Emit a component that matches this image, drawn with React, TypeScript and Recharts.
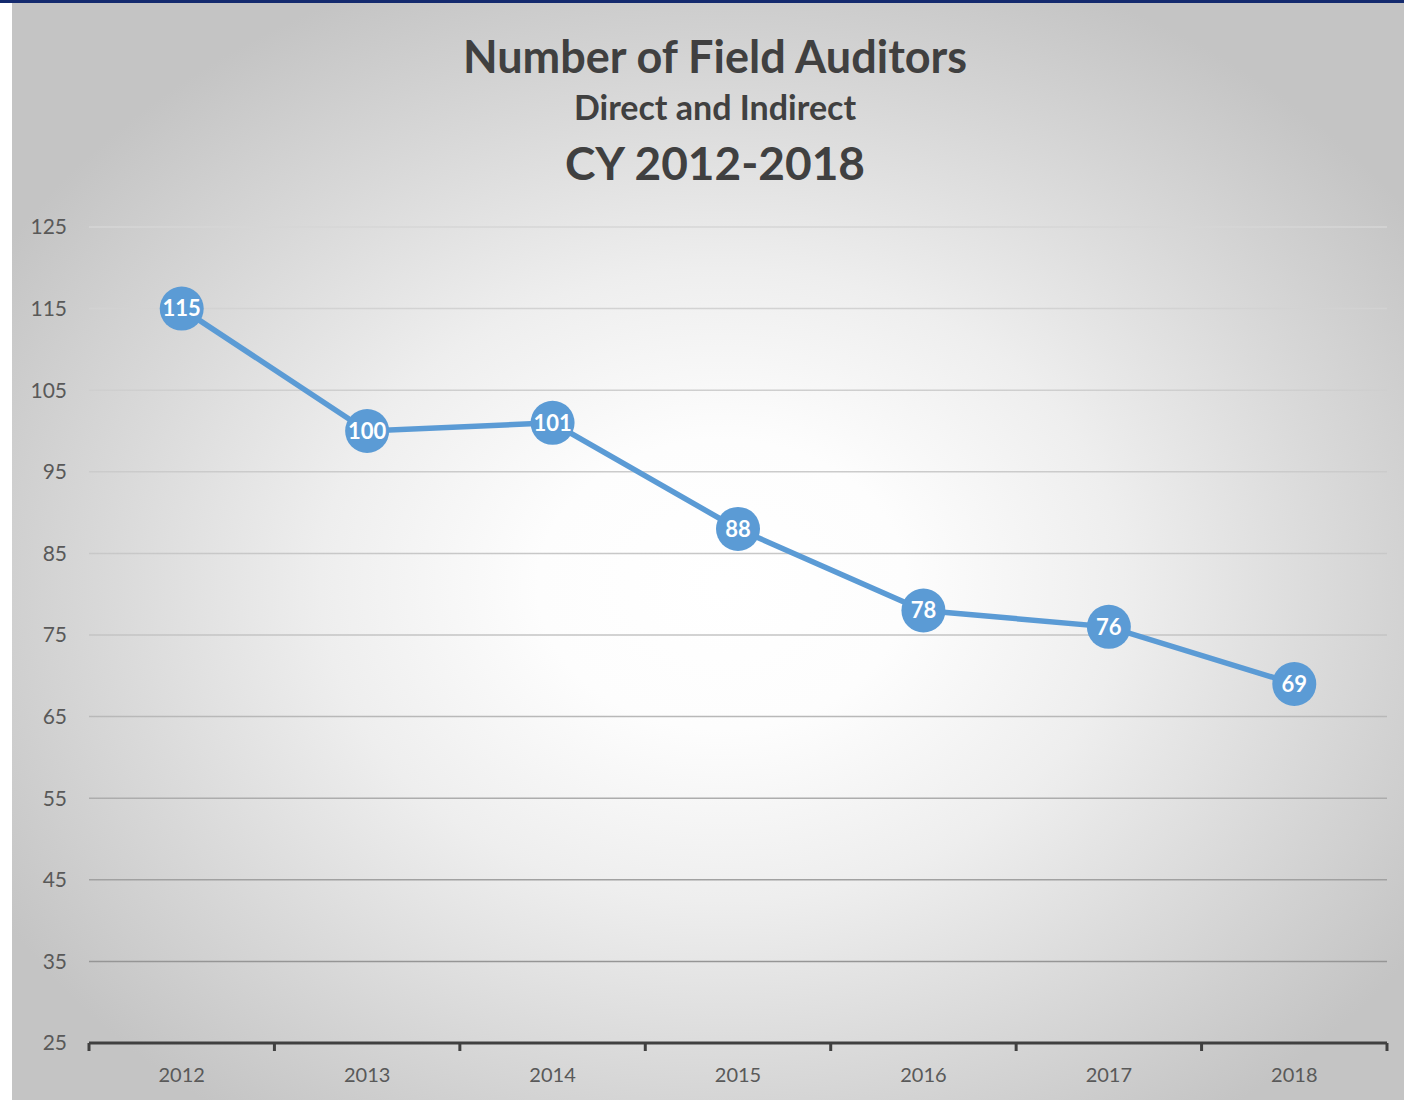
import { LineChart, Line, XAxis, YAxis, CartesianGrid, LabelList } from 'recharts'

const years = ['2012', '2013', '2014', '2015', '2016', '2017', '2018']
const auditors = [115, 100, 101, 88, 78, 76, 69]
const yTicks = [25, 35, 45, 55, 65, 75, 85, 95, 105, 115, 125]

const data = years.map((year, i) => ({ year, auditors: auditors[i] }))

const CHART_W = 1392
const CHART_H = 1097
const MARGIN = { top: 224, right: 17, bottom: 17, left: 0 }
const Y_AXIS_W = 77
const X_AXIS_H = 40
const PLOT_W = CHART_W - MARGIN.left - MARGIN.right - Y_AXIS_W
const HALF_BAND = PLOT_W / years.length / 2
const PLOT_BOTTOM = CHART_H - MARGIN.bottom - X_AXIS_H

const FONT = 'Lato, "Open Sans", sans-serif'
const BLUE = '#5B9BD5'

function XTick(props: any) {
  const { x, payload, index } = props
  const last = index === years.length - 1
  const top = PLOT_BOTTOM
  return (
    <g>
      <line x1={x - HALF_BAND} x2={x - HALF_BAND} y1={top} y2={top + 8} stroke="#404040" strokeWidth={3} />
      {last && (
        <line x1={x + HALF_BAND} x2={x + HALF_BAND} y1={top} y2={top + 8} stroke="#404040" strokeWidth={3} />
      )}
      <text x={x} y={top + 39} textAnchor="middle" fontSize={20} fill="#595959" fontFamily={FONT}>
        {payload.value}
      </text>
    </g>
  )
}

export default function App() {
  return (
    <div style={{ position: 'absolute', left: 0, top: 0, width: 1404, height: 1100, background: '#fff', overflow: 'hidden' }}>
      <div style={{ position: 'absolute', left: 0, top: 0, width: 1404, height: 3, background: '#142a6e' }} />
      <div
        style={{
          position: 'absolute',
          left: 12,
          top: 3,
          width: CHART_W,
          height: CHART_H,
          background:
            'radial-gradient(ellipse 60% 60% at 51% 53%, #ffffff 0%, #fdfdfd 22%, #eeeeee 48%, #d8d8d8 75%, #c4c4c4 100%)',
        }}
      >
        <div
          style={{
            position: 'absolute',
            top: 27,
            left: 7,
            width: CHART_W,
            textAlign: 'center',
            fontFamily: FONT,
            fontWeight: 700,
            color: '#404040',
          }}
        >
          <div style={{ fontSize: 45, lineHeight: '52px' }}>Number of Field Auditors</div>
          <div style={{ fontSize: 34, lineHeight: '44px', marginTop: 3 }}>Direct and Indirect</div>
          <div style={{ fontSize: 46, lineHeight: '60px', marginTop: 4 }}>CY 2012-2018</div>
        </div>
        <div style={{ position: 'absolute', left: 0, top: 0 }}>
          <LineChart width={CHART_W} height={CHART_H} data={data} margin={MARGIN}>
            <defs>
              <linearGradient id="gridGrad" gradientUnits="userSpaceOnUse" x1={0} y1={MARGIN.top} x2={0} y2={PLOT_BOTTOM}>
                <stop offset="0%" stopColor="#d6d6d6" />
                <stop offset="50%" stopColor="#c4c4c4" />
                <stop offset="100%" stopColor="#8a8a8a" />
              </linearGradient>
            </defs>
            <CartesianGrid vertical={false} stroke="url(#gridGrad)" strokeWidth={1.5} />
            <XAxis
              dataKey="year"
              scale="band"
              axisLine={{ stroke: '#404040', strokeWidth: 3 }}
              tickLine={false}
              tickSize={0}
              tick={<XTick />}
              height={X_AXIS_H}
              interval={0}
            />
            <YAxis
              domain={[25, 125]}
              ticks={yTicks}
              width={Y_AXIS_W}
              axisLine={false}
              tickLine={false}
              tickSize={0}
              tickMargin={22}
              tick={{ fontSize: 21, fill: '#595959', fontFamily: FONT }}
            />
            <Line
              dataKey="auditors"
              stroke={BLUE}
              strokeWidth={5.5}
              dot={{ r: 22, fill: BLUE, stroke: 'none' }}
              activeDot={false}
              isAnimationActive={false}
            >
              <LabelList
                dataKey="auditors"
                position="center"
                fill="#ffffff"
                fontSize={22}
                fontWeight={700}
                fontFamily={FONT}
              />
            </Line>
          </LineChart>
        </div>
      </div>
    </div>
  )
}
